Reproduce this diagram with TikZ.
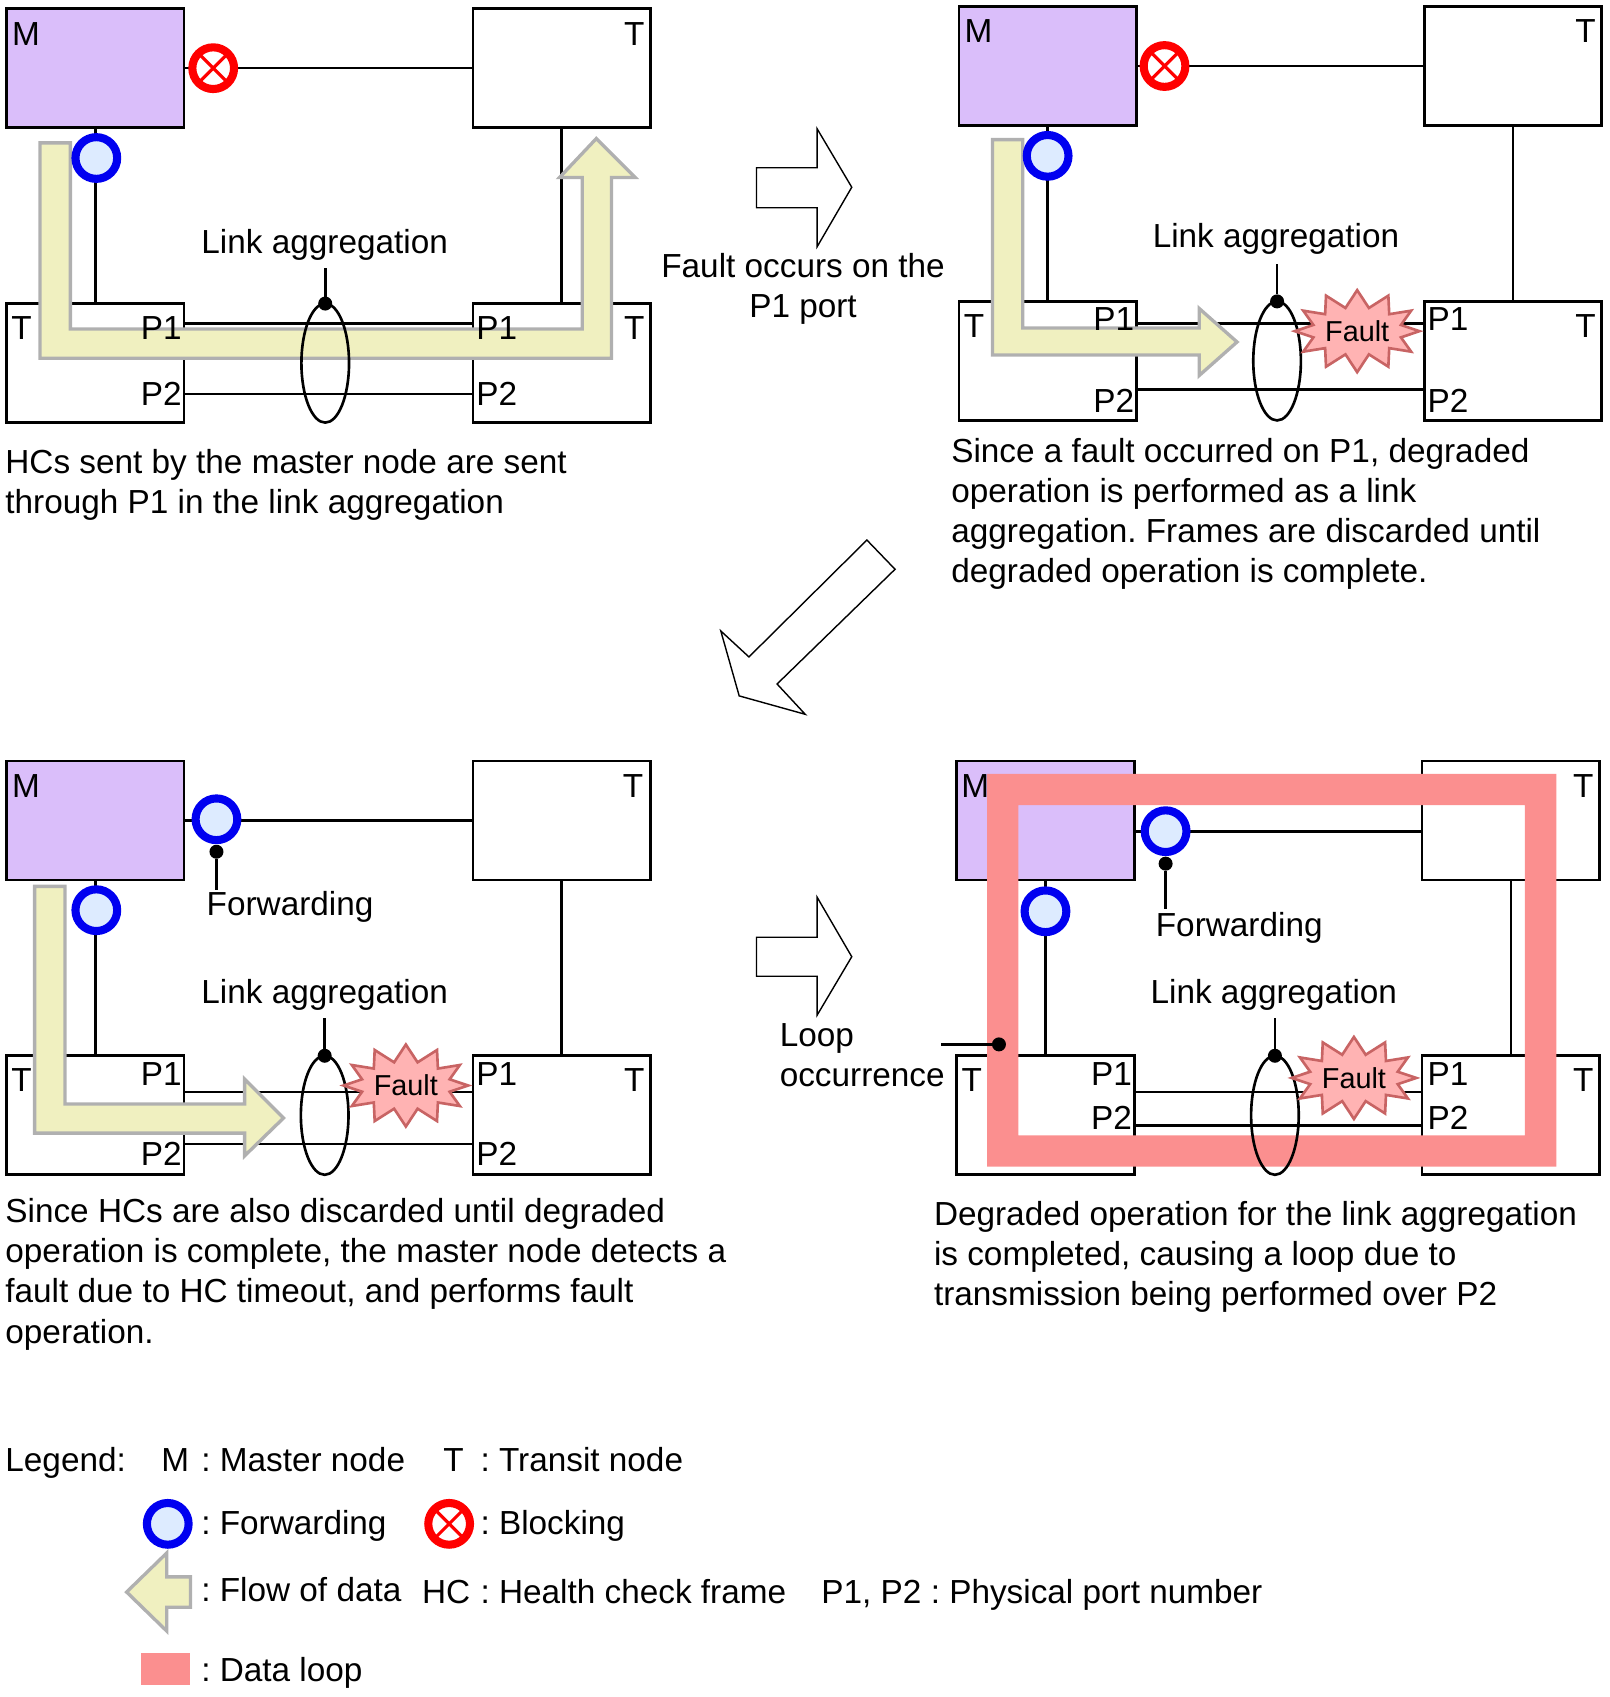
\documentclass[tikz,border=0pt]{standalone}
\usepackage{fontspec}
\setmainfont{Liberation Sans}
\usetikzlibrary{shapes.geometric}
\usetikzlibrary{shapes.symbols}
\definecolor{fwdblue}{RGB}{0,0,240}
\definecolor{fwdfill}{RGB}{221,235,255}
\definecolor{masterfill}{RGB}{218,190,250}
\definecolor{flowline}{RGB}{176,176,176}
\definecolor{flowfill}{RGB}{240,240,192}
\definecolor{faultline}{RGB}{200,100,100}
\definecolor{faultfill}{RGB}{255,179,179}
\definecolor{loopred}{RGB}{251,143,143}
\frenchspacing

\begin{document}
\begin{tikzpicture}[x=0.01082cm, y=-0.01082cm,
    every node/.style={font=\fontsize{9.48}{11.4}\selectfont, inner sep=0pt, outer sep=0pt},
    ringbox/.style={draw, line width=0.75pt, minimum width=1.774cm, minimum height=1.19cm},
    wire/.style={line width=0.75pt},
    forward/.style={circle, draw=fwdblue, fill=fwdfill, line width=2.3pt, minimum size=0.417cm},
    blockport/.style={circle, draw=red, fill=white, line width=2.3pt, minimum size=0.417cm,
      path picture={\draw[red, line width=0.9pt] (path picture bounding box.south west) -- (path picture bounding box.north east)
        (path picture bounding box.north west) -- (path picture bounding box.south east);}},
    lag/.style={ellipse, draw, line width=0.75pt, minimum width=0.476cm, minimum height=1.19cm},
    dotmark/.style={circle, fill=black, minimum size=0.14cm},
    flow/.style={draw=flowline, fill=flowfill, line width=0.95pt},
    fault/.style={starburst, starburst points=12, starburst point height=0.17cm, random starburst=0,
      draw=faultline, fill=faultfill, line width=0.75pt, font=\fontsize{8.2}{10}\selectfont,
      minimum width=0.92cm, minimum height=0.82cm},
    stepmark/.style={draw, line width=0.4pt, fill=white},
    txt/.style={anchor=base west},
    capt/.style={anchor=north west, align=left},
    lbl/.style={anchor=center}
  ]
  \useasboundingbox (0,0) rectangle (1487,1568);

  % Four boxes of each ring
  \foreach \pn/\lx/\rx/\ty/\by in {a/88/519/63/335.5, b/968/1398/61/333.5, c/88/519/758/1030.5, d/966/1396/758/1030.5} {
    \node[ringbox, fill=masterfill] (\pn m) at (\lx,\ty) {};
    \node[ringbox] (\pn tr) at (\rx,\ty) {};
    \node[ringbox] (\pn bl) at (\lx,\by) {};
    \node[ringbox] (\pn br) at (\rx,\by) {};
    \draw[wire] (\pn m) -- (\pn bl);
    \draw[wire] (\pn tr) -- (\pn br);
  }

  % Ring links, top side
  \draw[wire] (am) -- (atr);
  \draw[wire] (bm) -- (btr);
  \draw[wire] (cm) -- (ctr);
  \draw[wire] (dm.east |- 0,768) -- (dtr.west |- 0,768);

  % Links between ports
  \foreach \pn/\ya/\yb in {a/299/364, b/299/360, c/1009/1057, d/1009/1040} {
    \draw[wire] (\pn bl.east |- 0,\ya) -- (\pn br.west |- 0,\ya);
    \draw[wire] (\pn bl.east |- 0,\yb) -- (\pn br.west |- 0,\yb);
  }

  % Flow of data arrows
  \draw[flow] (37,132) -- (65,132) -- (65,304) -- (538,304) -- (538,164) -- (517,164) -- (551,128)
    -- (587,164) -- (565,164) -- (565,331) -- (37,331) -- cycle;
  \draw[flow] (917,129) -- (945,129) -- (945,303) -- (1108,303) -- (1108,285) -- (1143,316) -- (1108,347)
    -- (1108,328) -- (917,328) -- cycle;
  \draw[flow] (32,819) -- (60,819) -- (60,1020) -- (226,1020) -- (226,997) -- (262,1033) -- (226,1068)
    -- (226,1047) -- (32,1047) -- cycle;

  % Data loop
  \fill[loopred, even odd rule] (912,715) rectangle (1438,1078) (941,744) rectangle (1409,1049);

  % Link aggregation ellipses and their leaders
  \foreach \pn/\ex/\ey/\tx/\tn/\ly in {a/300.5/335.5/300/234/248, b/1180/333.5/1179/229/244, c/300/1030.5/300/927/941, d/1178/1030.5/1177/927/941} {
    \node[lag] (\pn lag) at (\ex,\ey) {};
    \node[dotmark] (\pn lagdot) at (\pn lag.north) {};
    \node[anchor=base] (\pn lagtxt) at (\tx,\tn) {Link aggregation};
    \coordinate (\pn lagend) at (\ex,\ly);
    \draw[wire] (\pn lagdot) -- (\pn lagend);
  }

  % Faults
  \node[fault] (bfault) at (1254,306) {Fault};
  \node[fault] (cfault) at (375,1003) {Fault};
  \node[fault] (dfault) at (1251,996) {Fault};

  % Ports
  \node[blockport] (ablock) at (197,63) {};
  \node[forward] (afwd) at (89,146) {};
  \node[blockport] (bblock) at (1076,61) {};
  \node[forward] (bfwd) at (968,144) {};
  \node[forward] (cfwda) at (200,757) {};
  \node[forward] (cfwd) at (89,841) {};
  \node[forward] (dfwda) at (1077,768) {};
  \node[forward] (dfwd) at (966,842) {};

  % Forwarding leaders
  \node[dotmark] (cfwddot) at (200,787) {};
  \node[txt] (cfwdtxt) at (191,846) {Forwarding};
  \coordinate (cfwdend) at (200,822);
  \draw[wire] (cfwddot) -- (cfwdend);
  \node[dotmark] (dfwddot) at (1077,798) {};
  \node[txt] (dfwdtxt) at (1068,865) {Forwarding};
  \coordinate (dfwdend) at (1077,840);
  \draw[wire] (dfwddot) -- (dfwdend);

  % Loop occurrence leader
  \node[dotmark] (dloopdot) at (923,965) {};
  \coordinate (dloopend) at (869,965);
  \draw[wire] (dloopdot) -- (dloopend);

  % Box letters and port numbers
  \foreach \pn/\mx/\my/\tx/\ty/\blx/\bly/\brx/\bry in {a/24/31/586/31/20/303/586/303, b/904/29/1465/29/900/301/1465/301,
      c/24/726/585/726/20/998/586/998, d/901/726/1463/726/898/998/1463/998} {
    \node[lbl] (\pn mlab) at (\mx,\my) {M};
    \node[lbl] (\pn trlab) at (\tx,\ty) {T};
    \node[lbl] (\pn bllab) at (\blx,\bly) {T};
    \node[lbl] (\pn brlab) at (\brx,\bry) {T};
  }
  \foreach \pn/\lx/\rx/\ya/\yb in {a/149/459/303/364, b/1029/1338/295/370, c/149/459/992/1066, d/1027/1338/992/1033} {
    \node[lbl] (\pn pal) at (\lx,\ya) {P1};
    \node[lbl] (\pn pbl) at (\lx,\yb) {P2};
    \node[lbl] (\pn par) at (\rx,\ya) {P1};
    \node[lbl] (\pn pbr) at (\rx,\yb) {P2};
  }

  % Outlined step arrows
  \draw[stepmark] (699,155) -- (755,155) -- (755,119) -- (787,173) -- (755,228) -- (755,192) -- (699,192) -- cycle;
  \draw[stepmark] (801,499) -- (827,526) -- (718,632) -- (744,660) -- (683,643) -- (666,583) -- (692,607) -- cycle;
  \draw[stepmark] (699,866) -- (755,866) -- (755,829) -- (787,884) -- (755,938) -- (755,902) -- (699,902) -- cycle;

  % Texts
  \node[anchor=north, align=center] (faulttxt) at (742,234) {Fault occurs on the\\P1 port};
  \node[capt] (looptxt) at (720.5,946) {Loop\\occurrence};
  \node[capt] (acapt) at (5,415.5) {HCs sent by the master node are sent\\through P1 in the link aggregation};
  \node[capt] (bcapt) at (879,405) {Since a fault occurred on P1, degraded\\operation is performed as a link\\aggregation. Frames are discarded until\\degraded operation is complete.};
  \node[capt] (ccapt) at (5,1107.5) {Since HCs are also discarded until degraded\\operation is complete, the master node detects a\\fault due to HC timeout, and performs fault\\operation.};
  \node[capt] (dcapt) at (863,1110) {Degraded operation for the link aggregation\\is completed, causing a loop due to\\transmission being performed over P2};

  % Legend
  \node[txt] (legtxt) at (5,1360) {Legend:};
  \node[anchor=base] (legm) at (162,1360) {M};
  \node[txt] (legmtxt) at (186,1360) {: Master node};
  \node[anchor=base] (legt) at (419,1360) {T};
  \node[txt] (legttxt) at (444,1360) {: Transit node};
  \node[forward] (legfwd) at (155,1408) {};
  \node[txt] (legfwdtxt) at (186,1418) {: Forwarding};
  \node[blockport] (legblock) at (415,1408) {};
  \node[txt] (legblocktxt) at (444,1418) {: Blocking};
  \draw[flow] (117,1471) -- (154,1435) -- (154,1457) -- (176,1457) -- (176,1485) -- (154,1485) -- (154,1507) -- cycle;
  \node[txt] (legflowtxt) at (186,1480) {: Flow of data};
  \node[txt] (leghc) at (390,1482) {HC};
  \node[txt] (leghctxt) at (444,1482) {: Health check frame};
  \node[txt] (legptxt) at (759,1482) {P1, P2 : Physical port number};
  \fill[loopred] (130,1527) rectangle (176,1557);
  \node[txt] (leglooptxt) at (186,1554) {: Data loop};

\end{tikzpicture}
\end{document}
